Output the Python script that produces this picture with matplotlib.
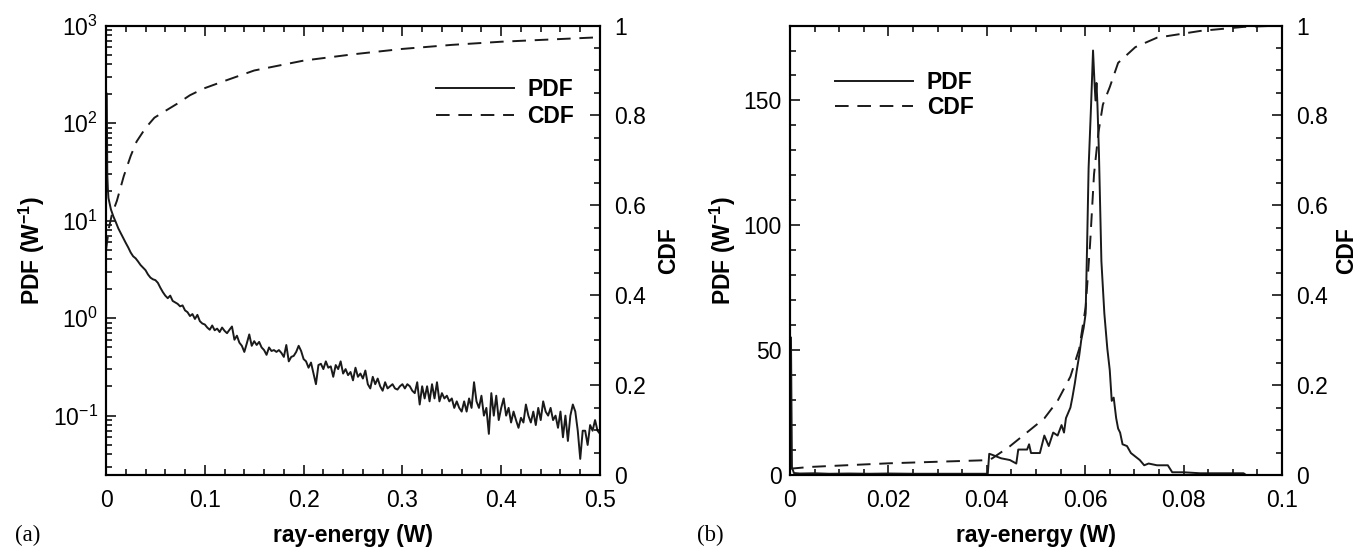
import numpy as np
import matplotlib
matplotlib.use("Agg")
import matplotlib.pyplot as plt
from matplotlib.ticker import MultipleLocator, LogLocator, NullFormatter

plt.rcParams['font.family'] = ['Liberation Sans', 'DejaVu Sans']
plt.rcParams['mathtext.fontset'] = 'custom'
plt.rcParams['mathtext.rm'] = 'Liberation Sans'
plt.rcParams['mathtext.bf'] = 'Liberation Sans:bold'
plt.rcParams['mathtext.default'] = 'regular'

# ---------------- Panel (a) data ----------------
a_pdf_head_x = [0.0008, 0.0013, 0.0019]
a_pdf_head_y = [200.0, 30.0, 21.0]
a_pdf_step = 0.0025
a_pdf_y = [
    # 0.0025 .. 0.1
    17, 13, 11, 9.6, 8.3, 7.4, 6.6, 5.9, 5.3, 4.7,
    4.3, 4.1, 3.8, 3.5, 3.3, 3.1, 2.8, 2.6, 2.5, 2.45,
    2.3, 2.05, 1.85, 1.7, 1.6, 1.7, 1.5, 1.45, 1.4, 1.32,
    1.35, 1.2, 1.15, 1.05, 1.1, 0.98, 1.08, 0.93, 0.88, 0.86,
    # 0.1025 .. 0.2
    0.80, 0.76, 0.84, 0.75, 0.78, 0.72, 0.80, 0.74, 0.70, 0.76,
    0.82, 0.60, 0.66, 0.56, 0.52, 0.45, 0.55, 0.68, 0.52, 0.58,
    0.53, 0.57, 0.50, 0.47, 0.42, 0.50, 0.46, 0.47, 0.45, 0.47,
    0.44, 0.40, 0.53, 0.36, 0.40, 0.41, 0.45, 0.52, 0.46, 0.38,
    # 0.2025 .. 0.3
    0.36, 0.31, 0.35, 0.27, 0.21, 0.33, 0.34, 0.30, 0.36, 0.31,
    0.32, 0.25, 0.33, 0.30, 0.36, 0.27, 0.30, 0.26, 0.28, 0.23,
    0.31, 0.25, 0.27, 0.24, 0.29, 0.21, 0.19, 0.25, 0.21, 0.24,
    0.20, 0.18, 0.22, 0.19, 0.20, 0.21, 0.19, 0.185, 0.20, 0.21,
    # 0.3025 .. 0.4
    0.19, 0.21, 0.20, 0.18, 0.17, 0.22, 0.13, 0.20, 0.15, 0.20,
    0.14, 0.21, 0.15, 0.22, 0.14, 0.17, 0.15, 0.16, 0.14, 0.15,
    0.12, 0.14, 0.12, 0.11, 0.14, 0.11, 0.15, 0.12, 0.22, 0.14,
    0.12, 0.16, 0.10, 0.12, 0.065, 0.17, 0.10, 0.16, 0.09, 0.12,
    # 0.4025 .. 0.5
    0.15, 0.10, 0.12, 0.085, 0.11, 0.09, 0.075, 0.095, 0.085, 0.13,
    0.10, 0.085, 0.11, 0.08, 0.12, 0.09, 0.14, 0.11, 0.10, 0.12,
    0.09, 0.10, 0.075, 0.11, 0.06, 0.10, 0.055, 0.10, 0.13, 0.11,
    0.07, 0.036, 0.07, 0.07, 0.05, 0.08, 0.07, 0.09, 0.07, 0.065,
]
a_cdf_x = [0.0, 0.003, 0.006, 0.011, 0.018, 0.025, 0.031, 0.04, 0.049, 0.06,
           0.072, 0.085, 0.099, 0.119, 0.15, 0.2, 0.25, 0.3, 0.35, 0.4, 0.45, 0.5]
a_cdf_y = [0.50, 0.55, 0.58, 0.61, 0.665, 0.71, 0.742, 0.772, 0.795, 0.81,
           0.826, 0.845, 0.86, 0.876, 0.90, 0.922, 0.936, 0.948, 0.957, 0.964, 0.969, 0.974]

# ---------------- Panel (b) data ----------------
b_pdf_x = [0.0002, 0.0004, 0.0008, 0.002, 0.005, 0.008, 0.012, 0.016, 0.02, 0.025, 0.03,
           0.035, 0.0402, 0.0405, 0.0411, 0.0429, 0.0447, 0.046, 0.0464, 0.0482, 0.0486,
           0.049, 0.0508, 0.0517, 0.0526, 0.0535, 0.0544, 0.0552, 0.0557, 0.0561, 0.057,
           0.0574, 0.0579, 0.0583, 0.0588, 0.0592, 0.0597, 0.0601, 0.0604, 0.0607, 0.0612,
           0.0616, 0.0619, 0.0621, 0.0623, 0.0625, 0.0628, 0.0633, 0.0639, 0.0645, 0.065,
           0.0654, 0.0658, 0.0663, 0.0667, 0.0671, 0.0676, 0.0685, 0.0693, 0.0702, 0.0711,
           0.072, 0.0729, 0.0746, 0.0768, 0.0777, 0.08, 0.0834, 0.0878, 0.0922, 0.0927, 0.1]
b_pdf_y = [55, 3, 0.8, 0.6, 0.7, 0.5, 0.6, 0.5, 0.6, 0.5, 0.5,
           0.5, 0.5, 8.5, 8.1, 6.7, 6.0, 4.6, 10.2, 10.2, 12.3,
           8.8, 8.8, 15.8, 11.6, 17, 15.8, 20, 17, 22.8, 27,
           31, 36.7, 42, 48, 54, 59, 64.7, 92.6, 123, 148,
           170, 157, 150, 157, 148, 129, 85.6, 64.7, 50.7, 42,
           29.7, 31, 22.8, 18.6, 17, 12.3, 11.6, 8.8, 7.4, 6.0,
           3.9, 4.6, 3.9, 3.9, 1.1, 1.1, 0.7, 0.7, 0.7, 0.0, 0.0]
b_cdf_x = [0.0, 0.0041, 0.02, 0.04, 0.0411, 0.0447, 0.0482, 0.0517, 0.0544, 0.057,
           0.0588, 0.0601, 0.061, 0.0618, 0.0627, 0.0636, 0.065, 0.0667, 0.0702, 0.0746,
           0.0834, 0.0922, 0.1]
b_cdf_y = [0.014, 0.018, 0.026, 0.033, 0.037, 0.064, 0.095, 0.126, 0.165, 0.219,
           0.281, 0.374, 0.514, 0.669, 0.762, 0.824, 0.863, 0.917, 0.952, 0.973,
           0.988, 0.997, 1.0]

# ---------------- figure ----------------
fig = plt.figure(figsize=(13.59, 5.47), dpi=100)
ax1 = fig.add_axes([0.078, 0.1316, 0.3635, 0.8217])
ax2 = fig.add_axes([0.5813, 0.1316, 0.362, 0.8217])

FS = 16.5
LW = 1.4
DASH = (7, 4.5)

def style(ax):
    for s in ax.spines.values():
        s.set_linewidth(1.5)
    ax.tick_params(which='both', direction='in', labelsize=FS, width=1.1)
    ax.tick_params(which='major', length=7, pad=10)
    ax.tick_params(which='minor', length=4)

# Panel (a)
xa = a_pdf_head_x + list(np.arange(1, len(a_pdf_y) + 1) * a_pdf_step)
ya = a_pdf_head_y + a_pdf_y
l1, = ax1.plot(xa, ya, color='#1a1a1a', lw=LW, label='PDF')
ax1.set_yscale('log')
ax1.set_xlim(0, 0.5)
ax1.set_ylim(0.0246, 1000)
ax1.set_xticks([0, 0.1, 0.2, 0.3, 0.4, 0.5])
ax1.set_xticklabels(['0', '0.1', '0.2', '0.3', '0.4', '0.5'])
ax1.xaxis.set_minor_locator(MultipleLocator(0.02))
ax1.yaxis.set_major_locator(LogLocator(base=10, numticks=10))
ax1.yaxis.set_minor_locator(LogLocator(base=10, subs=np.arange(2, 10), numticks=20))
ax1.yaxis.set_minor_formatter(NullFormatter())
style(ax1)
ax1.tick_params(axis='y', which='major', pad=6)
ax1.tick_params(axis='x', which='both', top=True)
ax1.set_xlabel('ray-energy (W)', fontsize=FS, fontweight='bold', labelpad=9)
ax1.set_ylabel(r'PDF (W$^{\mathbf{-1}}$)', fontsize=FS, fontweight='bold', labelpad=4)

ax1t = ax1.twinx()
l2, = ax1t.plot(a_cdf_x, a_cdf_y, color='#1a1a1a', lw=LW, dashes=DASH, label='CDF')
ax1t.set_ylim(0, 1)
ax1t.set_yticks([0, 0.2, 0.4, 0.6, 0.8, 1.0])
ax1t.set_yticklabels(['0', '0.2', '0.4', '0.6', '0.8', '1'])
ax1t.yaxis.set_minor_locator(MultipleLocator(0.05))
style(ax1t)
ax1t.set_ylabel('CDF', fontsize=FS, fontweight='bold', labelpad=8)
ax1.legend([l1, l2], ['PDF', 'CDF'], loc='upper right', bbox_to_anchor=(0.99, 0.93),
           frameon=False, prop={'weight': 'bold', 'size': FS}, handlelength=3.4,
           handletextpad=0.6, labelspacing=0.2)

# Panel (b)
m1, = ax2.plot(b_pdf_x, b_pdf_y, color='#1a1a1a', lw=LW, label='PDF')
ax2.set_xlim(0, 0.1)
ax2.set_ylim(0, 180)
ax2.set_xticks([0, 0.02, 0.04, 0.06, 0.08, 0.1])
ax2.set_xticklabels(['0', '0.02', '0.04', '0.06', '0.08', '0.1'])
ax2.xaxis.set_minor_locator(MultipleLocator(0.005))
ax2.set_yticks([0, 50, 100, 150])
ax2.yaxis.set_minor_locator(MultipleLocator(10))
style(ax2)
ax2.tick_params(axis='y', which='major', pad=6)
ax2.tick_params(axis='x', which='both', top=True)
ax2.set_xlabel('ray-energy (W)', fontsize=FS, fontweight='bold', labelpad=9)
ax2.set_ylabel(r'PDF (W$^{\mathbf{-1}}$)', fontsize=FS, fontweight='bold', labelpad=4)

ax2t = ax2.twinx()
m2, = ax2t.plot(b_cdf_x, b_cdf_y, color='#1a1a1a', lw=LW, dashes=DASH, label='CDF')
ax2t.set_ylim(0, 1)
ax2t.set_yticks([0, 0.2, 0.4, 0.6, 0.8, 1.0])
ax2t.set_yticklabels(['0', '0.2', '0.4', '0.6', '0.8', '1'])
ax2t.yaxis.set_minor_locator(MultipleLocator(0.05))
style(ax2t)
ax2t.set_ylabel('CDF', fontsize=FS, fontweight='bold', labelpad=5)
ax2.legend([m1, m2], ['PDF', 'CDF'], loc='upper left', bbox_to_anchor=(0.05, 0.945),
           frameon=False, prop={'weight': 'bold', 'size': FS}, handlelength=3.4,
           handletextpad=0.6, labelspacing=0.1)

fig.text(15 / 1359, 1 - 535 / 547, '(a)', family=['Liberation Serif', 'DejaVu Serif'],
         fontsize=FS, va='center', ha='left')
fig.text(697 / 1359, 1 - 535 / 547, '(b)', family=['Liberation Serif', 'DejaVu Serif'],
         fontsize=FS, va='center', ha='left')

fig.savefig('out.png', dpi=100)
